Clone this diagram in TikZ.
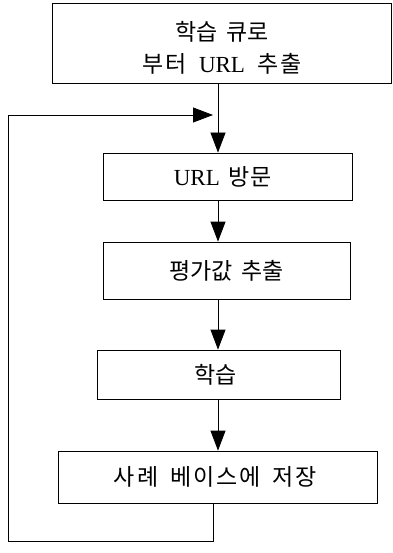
\documentclass[tikz,border=0pt]{standalone}
\usepackage{fontspec}
\usetikzlibrary{arrows.meta}
\setmainfont{Noto Sans CJK KR}
\newfontfamily\latfont{Liberation Serif}
\newcommand{\lat}[1]{{\latfont\fontsize{23pt}{24pt}\selectfont #1}}
\newcommand{\gap}{\hspace{9pt}}
\newcommand{\kk}{\hspace{2pt}}
\begin{document}
\begin{tikzpicture}[x=1pt,y=-1pt,
  box/.style={draw,line width=0.8pt,inner sep=0pt,align=center,
    font=\fontsize{23pt}{31pt}\selectfont},
  arr/.style={line width=0.8pt,-{Triangle[length=20pt,width=15pt]}},
  ln/.style={line width=0.8pt}]
\useasboundingbox (0,0) rectangle (392,553);
\node[box,minimum width=339pt,minimum height=80pt] (b1) at (221.5,43) {};
\node[font=\fontsize{23pt}{32pt}\selectfont,align=center,inner sep=0pt] (t1) at (222,47.5) {학습\gap 큐로\\부\kk 터\hspace{12pt}\lat{URL}\hspace{12pt}추\kk 출};
\node[box,minimum width=249pt,minimum height=47pt] (b2) at (227.5,176.5) {\lat{URL}\gap 방문\hspace*{10pt}};
\node[box,minimum width=247pt,minimum height=57pt] (b3) at (226.5,270.5) {평가값\gap 추출};
\node[box,minimum width=243pt,minimum height=49pt] (b4) at (218.5,374.5) {학습\hspace*{6pt}};
\node[box,minimum width=319pt,minimum height=52pt] (b5) at (217.5,477) {사\kk 례\hspace{12pt}베\kk 이\kk 스\kk 에\hspace{12pt}저\kk 장\hspace*{4pt}};
\coordinate (cx) at (218,0);
\coordinate (lx) at (213,0);
\coordinate (l1) at (213,541);
\coordinate (l2) at (8,541);
\coordinate (l3) at (8,115);
\coordinate (l4) at (213,115);
\draw[arr] (b1.south -| cx) -- (b2.north -| cx);
\draw[arr] (b2.south -| cx) -- (b3.north -| cx);
\draw[arr] (b3.south -| cx) -- (b4.north -| cx);
\draw[arr] (b4.south -| cx) -- (b5.north -| cx);
\draw[arr] (b5.south -| lx) -- (l1) -- (l2) -- (l3) -- (l4);
\end{tikzpicture}
\end{document}
